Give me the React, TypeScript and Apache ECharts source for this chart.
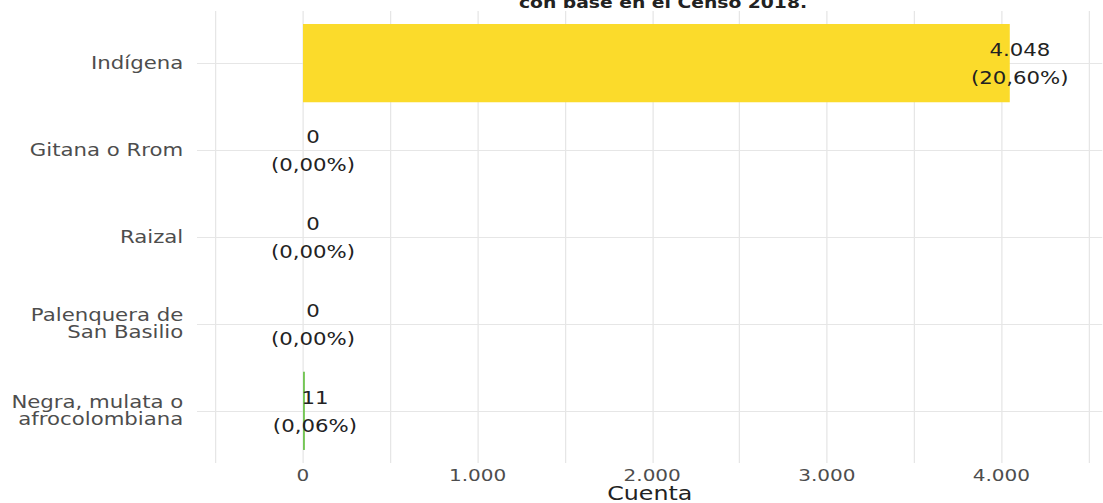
import React, { useEffect, useRef } from "react";
import * as echarts from "echarts";

// The reference picture is horizontally stretched; the chart is drawn at
// 1/S of the width and stretched back with CSS.
const S = 1.25;
const W = 1103 / S;
const H = 503;

const categories = [
  "Indígena",
  "Gitana o Rrom",
  "Raizal",
  "Palenquera de\nSan Basilio",
  "Negra, mulata o\nafrocolombiana",
];
const counts = [4048, 0, 0, 0, 11];
const percents = [20.6, 0.0, 0.0, 0.0, 0.06];
const barColors = ["#FBDB2B", "#3B528B", "#21908C", "#2C728E", "#74C655"];
const xTickLabels = [0, 1000, 2000, 3000, 4000];
const xGridValues = [-500, 0, 500, 1000, 1500, 2000, 2500, 3000, 3500, 4000, 4500];
const subtitle = "con base en el Censo 2018.";
const xTitle = "Cuenta";

const fmt = (n: number) => String(n).replace(/\B(?=(\d{3})+(?!\d))/g, ".");
const fmtPct = (p: number) => p.toFixed(2).replace(".", ",") + "%";

const FONT = "DejaVu Sans";
const GRID_COLOR = "#E6E6E6";

export default function App() {
  const ref = useRef<HTMLDivElement>(null);

  useEffect(() => {
    if (!ref.current) return;
    const chart = echarts.init(ref.current, null, { renderer: "svg" });
    const xMin = -607;
    const xMax = 4579;
    const left = 197 / S;

    chart.setOption({
      animation: false,
      backgroundColor: "#ffffff",
      textStyle: { fontFamily: FONT },
      graphic: [
        {
          type: "text",
          x: 663 / S,
          y: 10,
          style: {
            text: subtitle,
            align: "center",
            verticalAlign: "bottom",
            fontFamily: FONT,
            fontSize: 15,
            fontWeight: "bold",
            fill: "#222222",
          },
        },
      ],
      grid: [
        {
          left,
          right: 0,
          top: 19.7,
          bottom: 48.7,
          containLabel: false,
          outerBoundsMode: "none",
        },
        {
          left,
          right: 0,
          top: 11,
          bottom: 40,
          containLabel: false,
          outerBoundsMode: "none",
        },
      ],
      xAxis: [
        {
          type: "value",
          gridIndex: 0,
          min: xMin,
          max: xMax,
          axisLine: { show: false },
          axisTick: { show: false },
          splitLine: { show: false },
          axisLabel: {
            customValues: xTickLabels,
            formatter: (v: number) => fmt(v),
            color: "#4D4D4D",
            fontSize: 16,
            lineHeight: 16,
            fontFamily: FONT,
            margin: 13,
          },
          name: xTitle,
          nameLocation: "middle",
          nameGap: 29.5,
          nameMoveOverlap: false,
          nameTextStyle: {
            fontSize: 19,
            lineHeight: 19,
            color: "#222222",
            fontFamily: FONT,
          },
        },
        {
          type: "value",
          gridIndex: 1,
          min: xMin,
          max: xMax,
          show: false,
        },
      ],
      yAxis: [
        {
          type: "category",
          gridIndex: 0,
          data: categories,
          inverse: true,
          axisLine: { show: false },
          axisTick: { show: false },
          splitLine: { show: false },
          axisLabel: {
            color: "#4D4D4D",
            fontSize: 17,
            lineHeight: 17,
            fontFamily: FONT,
            margin: 11,
            align: "right",
          },
        },
        {
          type: "value",
          gridIndex: 1,
          min: 0,
          max: 1,
          show: false,
        },
      ],
      series: [
        {
          type: "line",
          xAxisIndex: 1,
          yAxisIndex: 1,
          data: [],
          silent: true,
          z: 0,
          markLine: {
            z: 1,
            silent: true,
            symbol: ["none", "none"],
            label: { show: false },
            lineStyle: { color: GRID_COLOR, width: 1, type: "solid" },
            data: xGridValues.map((v) => ({ xAxis: v })),
          },
        },
        {
          type: "line",
          xAxisIndex: 0,
          yAxisIndex: 0,
          data: [],
          silent: true,
          z: 0,
          markLine: {
            z: 1,
            silent: true,
            symbol: ["none", "none"],
            label: { show: false },
            lineStyle: { color: GRID_COLOR, width: 1, type: "solid" },
            data: categories.map((_, i) => ({ yAxis: i })),
          },
        },
        {
          type: "bar",
          xAxisIndex: 0,
          yAxisIndex: 0,
          z: 2,
          barWidth: "90%",
          data: counts.map((v, i) => ({
            value: v,
            itemStyle: { color: barColors[i] },
          })),
          label: {
            show: true,
            position: ["100%", "50%"],
            align: "center",
            verticalAlign: "middle",
            offset: [8, 1.5],
            fontFamily: FONT,
            fontSize: 17,
            lineHeight: 28,
            color: "#222222",
            formatter: (p: any) =>
              `${fmt(counts[p.dataIndex])}\n(${fmtPct(percents[p.dataIndex])})`,
          },
        },
      ],
    });

    return () => chart.dispose();
  }, []);

  return (
    <div
      ref={ref}
      style={{
        position: "fixed",
        left: 0,
        top: 0,
        width: W + "px",
        height: H + "px",
        transform: `scaleX(${S})`,
        transformOrigin: "0 0",
        background: "#ffffff",
      }}
    />
  );
}
